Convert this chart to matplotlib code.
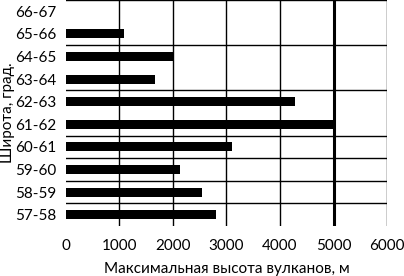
import matplotlib
matplotlib.use("Agg")
import matplotlib.pyplot as plt

categories = ["57-58", "58-59", "59-60", "60-61", "61-62", "62-63", "63-64", "64-65", "65-66", "66-67"]
heights = [2800, 2550, 2130, 3100, 5000, 4290, 1660, 2000, 1080, 0]
xticks = [0, 1000, 2000, 3000, 4000, 5000, 6000]
hline_boundaries = [1, 2, 3, 4, 6, 8, 10]

plt.rcParams['font.family'] = ['Lato', 'DejaVu Sans']

fig = plt.figure(figsize=(4.04, 2.76), dpi=100)
ax = fig.add_axes([0.163, 0.181, 0.795, 0.819])

pos = list(range(len(categories)))
ax.barh(pos, heights, height=0.4, color='black', zorder=3)

for b in hline_boundaries:
    ax.axhline(b - 0.5, color='black', lw=1.0, zorder=1)
for x in xticks[1:]:
    ax.axvline(x, color='black', lw=2.2 if x == 5000 else 1.0, zorder=1)

ax.set_xlim(0, 6000)
ax.set_ylim(-0.5, 9.5)
ax.set_xticks(xticks)
ax.set_xticklabels([str(v) for v in xticks], fontsize=11)
ax.set_yticks(pos)
ax.set_yticklabels(categories, fontsize=11)
ax.tick_params(length=0, pad=9)
ax.tick_params(axis='y', pad=7)
for s in ax.spines.values():
    s.set_visible(False)

ax.set_xlabel("Максимальная высота вулканов, м", fontsize=11, labelpad=7)
ax.set_ylabel("Широта, град.", fontsize=11, va='center')
ax.yaxis.set_label_coords(-0.18, 0.5)

fig.savefig("out.png", dpi=100)
